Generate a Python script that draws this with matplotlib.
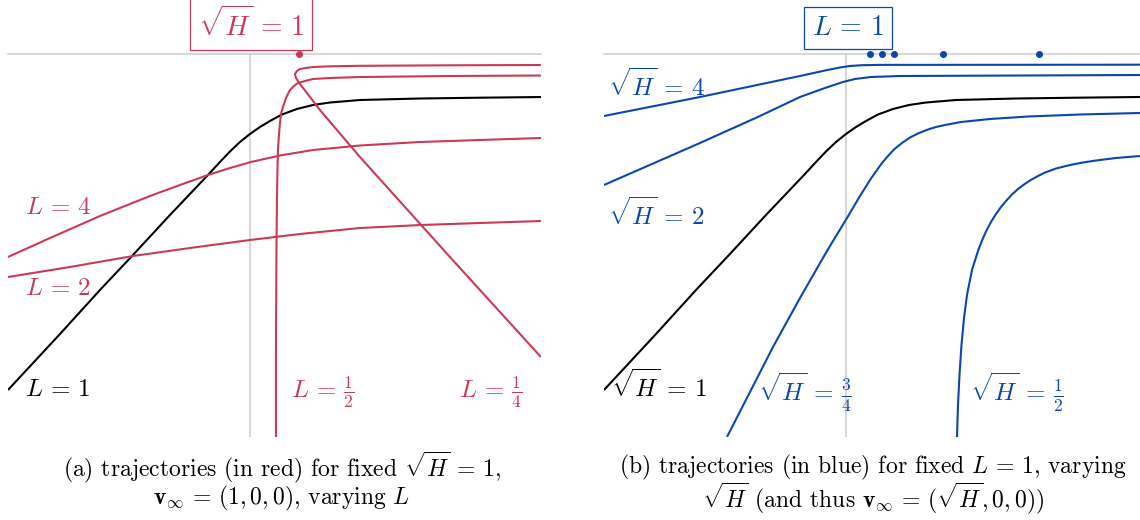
"""
Trajectories for fixed sqrt(H) (varying L) and fixed L (varying sqrt(H)).
Two panels, values read off the reference figure.
Units: x measured from the vertical reference line, y from the horizontal one.
"""
import matplotlib
matplotlib.use("Agg")
import matplotlib.pyplot as plt

plt.rcParams["mathtext.fontset"] = "cm"
plt.rcParams["font.family"] = ["cmr10", "DejaVu Serif"]
plt.rcParams["axes.unicode_minus"] = False

RED = "#cc3955"
BLUE = "#0a47ad"
GRAY = "#d0d0d0"

# =============================================================================
# Data
# =============================================================================
# reference trajectory L = 1, sqrt(H) = 1 (black, shared by both panels)
ref_x = [-2.42, -1.90, -1.50, -1.17, -0.80, -0.42, -0.30, -0.20, -0.10, 0.00, 0.10, 0.20,
         0.32, 0.47, 0.63, 0.80, 1.10, 1.70, 2.30, 2.94]
ref_y = [-3.36, -2.80, -2.36, -2.01, -1.61, -1.21, -1.08, -0.975, -0.88, -0.80, -0.73, -0.67,
         -0.605, -0.55, -0.51, -0.485, -0.46, -0.445, -0.437, -0.43]

# panel (a): fixed sqrt(H) = 1, varying L
l4_x = [-2.42, -2.00, -1.50, -1.00, -0.70, -0.42, -0.20, 0.01, 0.30, 0.63, 1.10, 1.70, 2.30, 2.91]
l4_y = [-2.03, -1.84, -1.62, -1.42, -1.31, -1.21, -1.14, -1.08, -1.015, -0.96, -0.915, -0.88,
        -0.86, -0.84]

l2_x = [-2.42, -1.80, -1.17, -0.60, 0.00, 0.50, 1.10, 1.71, 2.30, 2.91]
l2_y = [-2.23, -2.13, -2.02, -1.94, -1.86, -1.80, -1.74, -1.71, -1.69, -1.67]

lhalf_x = [0.26, 0.26, 0.265, 0.27, 0.275, 0.28, 0.29, 0.30, 0.31, 0.33, 0.36, 0.40, 0.44,
           0.48, 0.55, 0.63, 0.80, 1.10, 2.00, 2.91]
lhalf_y = [-3.83, -2.96, -1.96, -1.46, -1.16, -0.96, -0.81, -0.69, -0.60, -0.53, -0.44, -0.36,
           -0.32, -0.29, -0.27, -0.25, -0.24, -0.23, -0.22, -0.215]

lquart_x = [2.91, 2.00, 1.10, 0.70, 0.57, 0.50, 0.46, 0.45, 0.47, 0.50, 0.56, 0.63, 0.80,
            1.10, 2.00, 2.91]
lquart_y = [-3.03, -2.03, -1.03, -0.56, -0.39, -0.30, -0.24, -0.20, -0.17, -0.15, -0.14,
            -0.13, -0.123, -0.118, -0.113, -0.11]

dot_a_x = [0.49]

# panel (b): fixed L = 1, varying sqrt(H)
h4_x = [-2.42, -1.46, -0.46, -0.21, -0.06, 0.04, 0.16, 0.34, 2.94]
h4_y = [-0.62, -0.43, -0.22, -0.165, -0.135, -0.12, -0.112, -0.109, -0.107]

h2_x = [-2.42, -1.46, -0.86, -0.46, -0.21, -0.03, 0.09, 0.25, 0.54, 2.94]
h2_y = [-1.31, -0.89, -0.62, -0.43, -0.34, -0.28, -0.25, -0.23, -0.22, -0.21]

h34_x = [-1.19, -0.96, -0.73, -0.46, -0.19, 0.01, 0.14, 0.25, 0.36, 0.42, 0.48, 0.56, 0.64,
         0.73, 0.82, 0.90, 0.99, 1.15, 1.44, 1.82, 2.34, 2.94]
h34_y = [-3.83, -3.38, -2.93, -2.44, -1.97, -1.64, -1.42, -1.245, -1.09, -1.02, -0.955, -0.89,
         -0.835, -0.79, -0.755, -0.73, -0.71, -0.68, -0.65, -0.625, -0.605, -0.59]

hhalf_x = [1.11, 1.12, 1.135, 1.155, 1.18, 1.21, 1.26, 1.32, 1.36, 1.40, 1.45, 1.49, 1.55,
           1.60, 1.66, 1.72, 1.78, 1.84, 1.92, 1.99, 2.10, 2.24, 2.37, 2.50, 2.70, 2.94]
hhalf_y = [-3.83, -3.51, -3.21, -2.91, -2.64, -2.41, -2.16, -1.97, -1.865, -1.775, -1.68,
           -1.615, -1.53, -1.47, -1.405, -1.35, -1.305, -1.265, -1.22, -1.185, -1.145, -1.11,
           -1.085, -1.065, -1.04, -1.02]

dot_b_x = [0.24, 0.36, 0.48, 0.97, 1.93]

# =============================================================================
# Plot
# =============================================================================
fig = plt.figure(figsize=(11.4, 5.2), dpi=100)
ax1 = fig.add_axes([0.007, 0.1596, 0.4675, 0.8404])
ax2 = fig.add_axes([0.5298, 0.1596, 0.4702, 0.8404])

YLIM = (-3.83, 0.54)
LW = 1.5


def frame(ax, xlim):
    ax.set_xlim(*xlim)
    ax.set_ylim(*YLIM)
    ax.axis("off")
    ax.plot(xlim, [0, 0], color=GRAY, lw=1.2, zorder=1, clip_on=False)
    ax.plot([0, 0], [YLIM[0], 0], color=GRAY, lw=1.2, zorder=1)


def curve(ax, xs, ys, color):
    ax.plot(xs, ys, color=color, lw=LW, zorder=3, solid_joinstyle="round",
            solid_capstyle="butt")


# -------------------------
# (a) fixed sqrt(H) = 1
# -------------------------
frame(ax1, (-2.42, 2.91))
curve(ax1, ref_x, ref_y, "black")
for xs, ys in [(l4_x, l4_y), (l2_x, l2_y), (lhalf_x, lhalf_y), (lquart_x, lquart_y)]:
    curve(ax1, xs, ys, RED)
ax1.plot(dot_a_x, [0] * len(dot_a_x), "o", color=RED, ms=4, zorder=4, clip_on=False)

fs = 18
ax1.text(-2.25, -1.54, r"$L\,=\,4$", color=RED, fontsize=fs, va="center")
ax1.text(-2.25, -2.35, r"$L\,=\,2$", color=RED, fontsize=fs, va="center")
ax1.text(-2.25, -3.36, r"$L\,=\,1$", color="black", fontsize=fs, va="center")
ax1.text(0.41, -3.38, r"$L\,=\,\frac{1}{2}$", color=RED, fontsize=fs, va="center")
ax1.text(2.09, -3.38, r"$L\,=\,\frac{1}{4}$", color=RED, fontsize=fs, va="center")
ax1.text(0.01, 0.30, r"$\sqrt{H}\,=\,1$", color=RED, fontsize=20, ha="center", va="center",
         bbox=dict(boxstyle="square,pad=0.28", fc="white", ec=RED, lw=0.9), clip_on=False)

# -------------------------
# (b) fixed L = 1
# -------------------------
frame(ax2, (-2.42, 2.94))
curve(ax2, ref_x, ref_y, "black")
for xs, ys in [(h4_x, h4_y), (h2_x, h2_y), (h34_x, h34_y), (hhalf_x, hhalf_y)]:
    curve(ax2, xs, ys, BLUE)
ax2.plot(dot_b_x, [0] * len(dot_b_x), "o", color=BLUE, ms=4, zorder=4, clip_on=False)

ax2.text(-2.38, -0.31, r"$\sqrt{H}\,=\,4$", color=BLUE, fontsize=fs, va="center")
ax2.text(-2.38, -1.60, r"$\sqrt{H}\,=\,2$", color=BLUE, fontsize=fs, va="center")
ax2.text(-2.35, -3.32, r"$\sqrt{H}\,=\,1$", color="black", fontsize=fs, va="center")
ax2.text(-0.88, -3.38, r"$\sqrt{H}\,=\,\frac{3}{4}$", color=BLUE, fontsize=fs, va="center")
ax2.text(1.24, -3.38, r"$\sqrt{H}\,=\,\frac{1}{2}$", color=BLUE, fontsize=fs, va="center")
ax2.text(0.02, 0.26, r"$L\,=\,1$", color=BLUE, fontsize=20, ha="center", va="center",
         bbox=dict(boxstyle="square,pad=0.28", fc="white", ec=BLUE, lw=0.9), clip_on=False)

# -------------------------
# Captions
# -------------------------
cfs = 17
y1 = 1 - 467 / 520
y2 = 1 - 498 / 520
fig.text(282 / 1140, y1, r"(a) trajectories (in red) for fixed $\sqrt{H}\,=\,1$,",
         fontsize=cfs, ha="center", va="center")
fig.text(282 / 1140, y2, r"$\mathbf{v}_\infty\,=\,(1, 0, 0)$, varying $L$",
         fontsize=cfs, ha="center", va="center")
fig.text(873 / 1140, y1, r"(b) trajectories (in blue) for fixed $L\,=\,1$, varying",
         fontsize=cfs, ha="center", va="center")
fig.text(873 / 1140, y2,
         r"$\sqrt{H}$ (and thus $\mathbf{v}_\infty\,=\,(\sqrt{H}, 0, 0)$)",
         fontsize=cfs, ha="center", va="center")

fig.savefig("out.png", dpi=100)
plt.close(fig)
